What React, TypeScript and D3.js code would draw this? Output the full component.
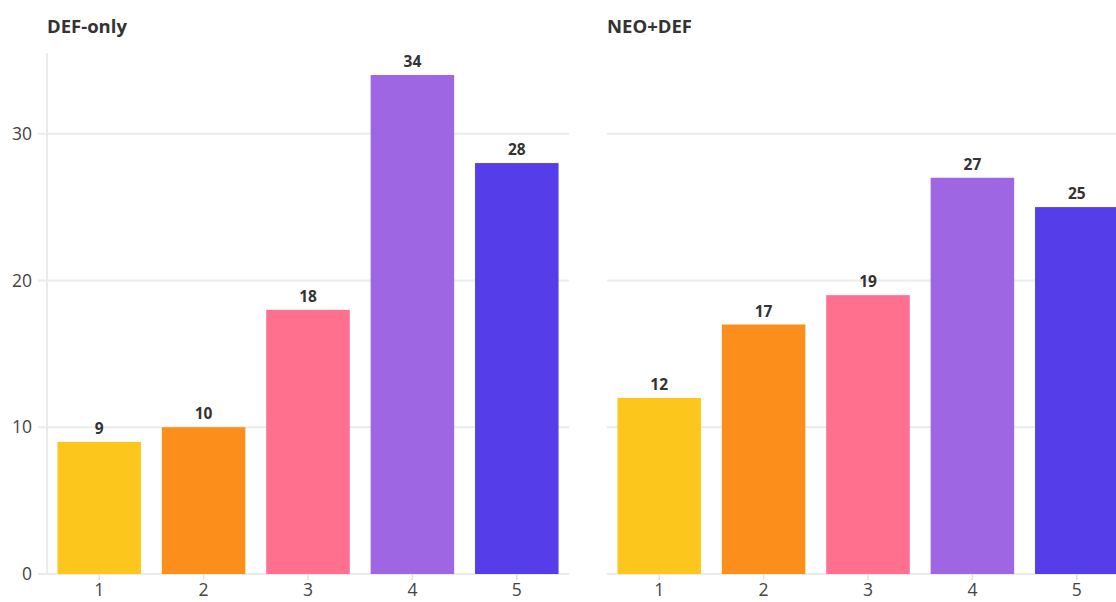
import React from "react";
import * as d3 from "d3";

const categories = ["1", "2", "3", "4", "5"];
const defOnly = [9, 10, 18, 34, 28];
const neoDef = [12, 17, 19, 27, 25];
const panelTitles = ["DEF-only", "NEO+DEF"];
const yTicks = [0, 10, 20, 30];
const barColors = ["#FCC61C", "#FC8E1B", "#FF6F8E", "#9E66E3", "#553DE9"];

const W = 1116;
const H = 602;
const FONT = "'Source Sans Pro', 'Open Sans', 'Noto Sans', sans-serif";

export default function App() {
  const y = d3.scaleLinear().domain([0, 35.5]).range([574, 53]);
  const panels = [
    { title: panelTitles[0], values: defOnly, x0: 47, x1: 569, showAxis: true },
    { title: panelTitles[1], values: neoDef, x0: 607, x1: 1129, showAxis: false },
  ];
  return (
    <div style={{ position: "fixed", left: 0, top: 0 }}>
      <svg width={W} height={H} style={{ display: "block", background: "#fff" }}>
        {panels.map((p, pi) => {
          const x = d3
            .scaleBand<string>()
            .domain(categories)
            .range([p.x0, p.x1])
            .paddingInner(0.2)
            .paddingOuter(0.1);
          return (
            <g key={pi}>
              <text
                x={p.x0}
                y={33}
                fontFamily={FONT}
                fontWeight={700}
                fontSize={18.5}
                fill="#333"
              >
                {p.title}
              </text>
              {yTicks.map((t) => (
                <line
                  key={t}
                  x1={p.showAxis ? p.x0 - 9 : p.x0}
                  x2={p.x1}
                  y1={y(t)}
                  y2={y(t)}
                  stroke="#ebebeb"
                  strokeWidth={2}
                />
              ))}
              {p.showAxis && (
                <line
                  x1={p.x0}
                  x2={p.x0}
                  y1={y(35.5)}
                  y2={y(0)}
                  stroke="#ebebeb"
                  strokeWidth={2}
                />
              )}
              {p.showAxis &&
                yTicks.map((t) => (
                  <text
                    key={t}
                    x={p.x0 - 15}
                    y={y(t)}
                    dy="0.35em"
                    textAnchor="end"
                    fontFamily={FONT}
                    fontSize={17.5}
                    fill="#444"
                  >
                    {t}
                  </text>
                ))}
              {categories.map((c, i) => {
                const bx = x(c)!;
                const cx = bx + x.bandwidth() / 2;
                const v = p.values[i];
                return (
                  <g key={c}>
                    <rect
                      x={bx}
                      y={y(v)}
                      width={x.bandwidth()}
                      height={y(0) - y(v)}
                      fill={barColors[i]}
                    />
                    <text
                      x={cx}
                      y={y(v) - 8}
                      textAnchor="middle"
                      fontFamily={FONT}
                      fontWeight={700}
                      fontSize={15.5}
                      fill="#333"
                    >
                      {v}
                    </text>
                    <line
                      x1={cx}
                      x2={cx}
                      y1={y(0)}
                      y2={y(0) + 6}
                      stroke="#e0e0e0"
                      strokeWidth={1.5}
                    />
                    <text
                      x={cx}
                      y={596}
                      textAnchor="middle"
                      fontFamily={FONT}
                      fontSize={17.5}
                      fill="#444"
                    >
                      {c}
                    </text>
                  </g>
                );
              })}
            </g>
          );
        })}
      </svg>
    </div>
  );
}
